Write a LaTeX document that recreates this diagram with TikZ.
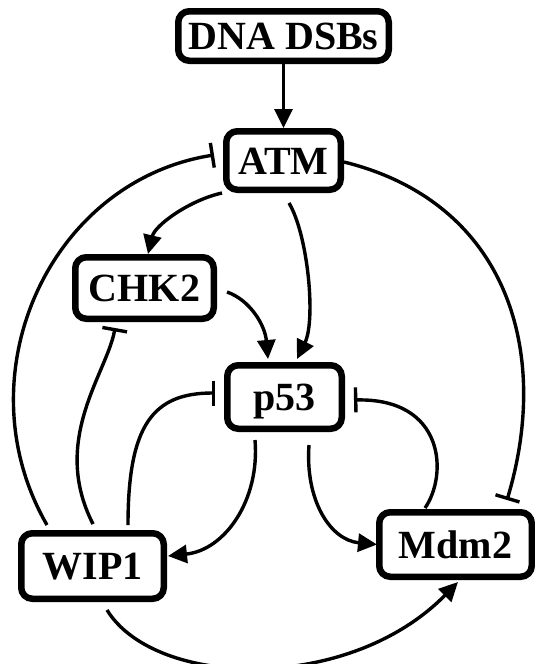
\documentclass[tikz,border=0pt]{standalone}
\usepackage{fontspec}
\setmainfont{Liberation Serif}
\usetikzlibrary{arrows.meta}
\begin{document}
\begin{tikzpicture}[x=1pt,y=-1pt,
  gene/.style={draw, line width=6.5pt, rounded corners=11pt, inner sep=0pt,
    font=\fontsize{40}{42}\selectfont\bfseries, text height=27pt, text depth=0pt},
  link/.style={line width=3.4pt},
  act/.style={link, -{Triangle[length=19pt,width=18pt]}},
  inh/.style={link, -{Bar[width=25pt]}},
]
\useasboundingbox (0,0) rectangle (535,664);

% species
\node[gene, minimum width=210.5pt, minimum height=49.5pt] (dsb)  at (283.5,36)    {DNA DSBs};
\node[gene, minimum width=114.5pt, minimum height=58.5pt] (atm)  at (283.5,160.5) {ATM};
\node[gene, minimum width=138.5pt, minimum height=61.5pt] (chk2) at (144.5,288)   {CHK2};
\node[gene, minimum width=114.5pt, minimum height=63.5pt] (p53)  at (284.5,397)   {p53};
\node[gene, minimum width=152.5pt, minimum height=64.5pt] (mdm2) at (455.5,544.5) {Mdm2};
\node[gene, minimum width=142.5pt, minimum height=65.5pt] (wip1) at (92.5,566)    {WIP1};

% activations
\draw[act] (dsb.south) -- (atm.north);
\draw[act] ([shift={(-1,0)}]atm.south west) .. controls +(-32,7) and +(7,-29) .. ([shift={(3.5,0)}]chk2.north);
\draw[act] ([shift={(5.5,10)}]atm.south) .. controls +(19,32) and +(19,-39) .. ([shift={(12.5,-3)}]p53.north);
\draw[act] ([shift={(10,4)}]chk2.east) .. controls +(23,8) and +(-3,-34) .. ([shift={(-16.5,-3)}]p53.north);
\draw[act] ([shift={(-29.5,8)}]p53.south) .. controls +(5,60) and +(57,-6) .. ([shift={(1,-10)}]wip1.east);
\draw[act] ([shift={(24.5,13)}]p53.south) .. controls +(-4,55) and +(-47,-4.5) .. ([shift={(1,0)}]mdm2.west);
\draw[act] ([shift={(14.5,8)}]wip1.south) .. controls +(48,78) and +(-110,112) .. ([shift={(2.5,2)}]mdm2.south);

% inhibitions
\draw[inh] ([shift={(29,-5)}]wip1.north west) .. controls +(-86,-149) and +(-165,26) .. ([shift={(-9,-5.5)}]atm.west);
\draw[inh] ([shift={(0.5,-6)}]wip1.north) .. controls +(-43,-84) and +(-8,45) .. ([shift={(-29.5,6)}]chk2.south);
\draw[inh] ([shift={(35.5,-5)}]wip1.north) .. controls +(0,-100) and +(-62,0) .. ([shift={(-9,-4)}]p53.west);
\draw[inh] ([shift={(-30.5,-1)}]mdm2.north) .. controls +(23,-33) and +(91,-2) .. ([shift={(9,3)}]p53.east);
\draw[inh] ([shift={(0,1.5)}]atm.east) .. controls +(162,40) and +(45,-150) .. ([shift={(51.5,-9)}]mdm2.north);
\end{tikzpicture}
\end{document}
